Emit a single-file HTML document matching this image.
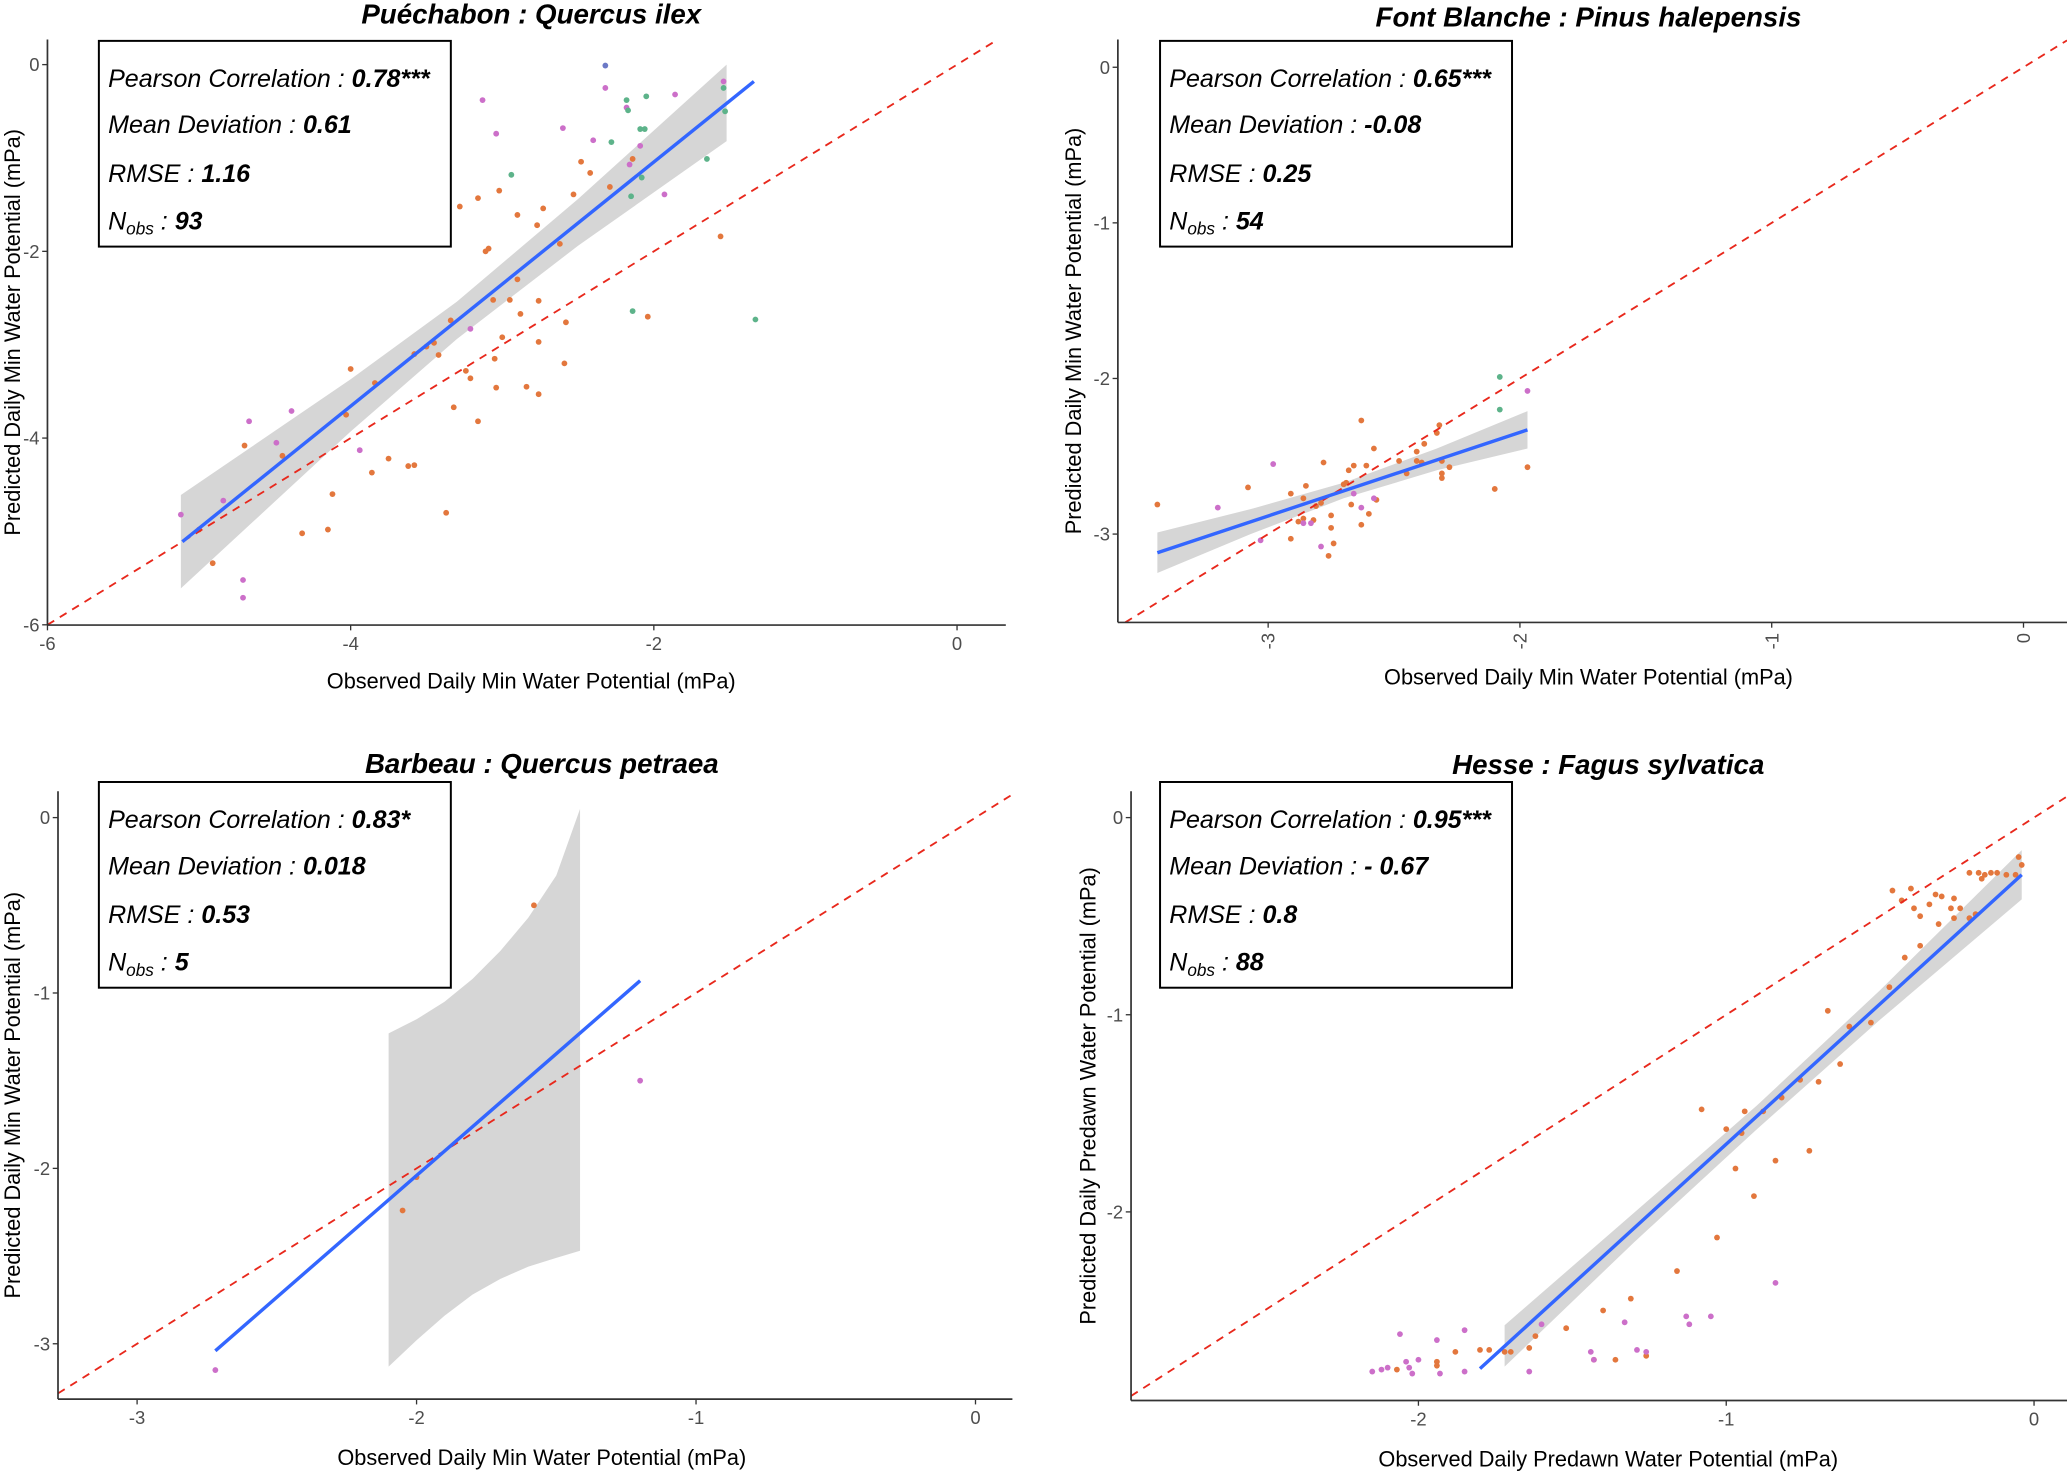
<!DOCTYPE html>
<html><head><meta charset="utf-8">
<style>
html,body{margin:0;padding:0;background:#fff;}
svg{display:block;}
text{font-family:"Liberation Sans",sans-serif;}
</style></head>
<body>
<svg id="fig" width="2067" height="1473" viewBox="0 0 1568 1117" preserveAspectRatio="none" xmlns="http://www.w3.org/2000/svg"></svg>
<script>
// ---------- Panel 1: Puechabon ----------
const p1Orange=[[-3.39,-0.95],[-3.28,-1.52],[-3.16,-1.43],[-3.02,-1.35],[-2.9,-1.61],[-2.73,-1.54],[-2.77,-1.72],[-2.48,-1.04],[-2.42,-1.16],[-2.53,-1.39],[-2.29,-1.31],[-2.62,-1.92],[-2.14,-1.01],[-1.56,-1.84],[-3.11,-2.0],[-3.09,-1.97],[-2.9,-2.3],[-3.06,-2.52],[-2.95,-2.52],[-2.76,-2.53],[-2.88,-2.67],[-2.58,-2.76],[-2.04,-2.7],[-3.34,-2.74],[-3.0,-2.92],[-2.76,-2.97],[-3.45,-2.98],[-3.5,-3.02],[-3.42,-3.11],[-3.58,-3.1],[-3.05,-3.15],[-3.24,-3.28],[-3.21,-3.36],[-2.59,-3.2],[-3.04,-3.46],[-2.84,-3.45],[-2.76,-3.53],[-3.84,-3.41],[-4.0,-3.26],[-3.32,-3.67],[-4.03,-3.75],[-3.16,-3.82],[-4.7,-4.08],[-4.45,-4.19],[-3.75,-4.22],[-3.86,-4.37],[-3.62,-4.3],[-3.58,-4.29],[-4.12,-4.6],[-3.37,-4.8],[-4.32,-5.02],[-4.15,-4.98],[-5.0,-4.98],[-4.91,-5.34]];
const p1Purple=[[-2.32,-0.25],[-3.13,-0.38],[-3.04,-0.74],[-2.6,-0.68],[-2.4,-0.81],[-1.86,-0.32],[-1.54,-0.18],[-2.16,-1.07],[-2.09,-0.87],[-1.93,-1.39],[-2.18,-0.46],[-3.21,-2.83],[-3.94,-4.13],[-4.39,-3.71],[-4.67,-3.82],[-4.49,-4.05],[-4.84,-4.67],[-5.12,-4.82],[-4.71,-5.52],[-4.71,-5.71]];
const p1Green=[[-2.18,-0.38],[-2.05,-0.34],[-2.17,-0.49],[-2.28,-0.83],[-2.09,-0.69],[-2.06,-0.69],[-2.08,-1.21],[-2.15,-1.41],[-1.65,-1.01],[-1.54,-0.25],[-1.53,-0.5],[-2.94,-1.18],[-3.38,-1.53],[-2.14,-2.64],[-1.33,-2.73]];
const p1Blue=[[-2.32,-0.01]];
const p1FitX=[-5.11,-1.34];
const p1FitY=[-5.11,-0.18];
const p1BandX=[-5.12,-4,-3.3,-2.5,-1.52];
const p1BandLo=[-5.61,-3.93,-2.94,-1.94,-0.82];
const p1BandHi=[-4.61,-3.37,-2.54,-1.44,0.0];

// ---------- Panel 2: Font Blanche ----------
const p2Orange=[[-3.44,-2.81],[-3.08,-2.7],[-2.91,-2.74],[-2.91,-3.03],[-2.88,-2.92],[-2.86,-2.9],[-2.82,-2.91],[-2.85,-2.69],[-2.86,-2.77],[-2.81,-2.82],[-2.79,-2.8],[-2.78,-2.54],[-2.76,-3.14],[-2.75,-2.88],[-2.75,-2.96],[-2.74,-3.06],[-2.7,-2.68],[-2.69,-2.67],[-2.68,-2.59],[-2.66,-2.56],[-2.67,-2.81],[-2.63,-2.27],[-2.63,-2.94],[-2.61,-2.56],[-2.6,-2.87],[-2.58,-2.45],[-2.57,-2.78],[-2.48,-2.53],[-2.45,-2.61],[-2.41,-2.47],[-2.41,-2.53],[-2.39,-2.54],[-2.38,-2.42],[-2.33,-2.35],[-2.32,-2.3],[-2.31,-2.53],[-2.31,-2.61],[-2.31,-2.64],[-2.28,-2.57],[-2.1,-2.71],[-1.97,-2.57]];
const p2Purple=[[-3.2,-2.83],[-2.98,-2.55],[-3.03,-3.04],[-2.86,-2.93],[-2.83,-2.93],[-2.79,-3.08],[-2.66,-2.74],[-2.63,-2.83],[-2.58,-2.77],[-1.97,-2.08]];
const p2Green=[[-2.08,-1.99],[-2.08,-2.2]];
const p2FitX=[-3.44,-1.97];
const p2FitY=[-3.12,-2.33];
const p2BandX=[-3.44,-3.07,-2.7,-2.33,-1.97];
const p2BandLo=[-3.25,-3.0,-2.77,-2.59,-2.45];
const p2BandHi=[-2.99,-2.84,-2.67,-2.45,-2.21];

// ---------- Panel 3: Barbeau ----------
const p3Orange=[[-2.05,-2.24],[-1.58,-0.5],[-2.0,-2.05]];
const p3Purple=[[-2.72,-3.15],[-1.2,-1.5]];
const p3FitX=[-2.72,-1.2];
const p3FitY=[-3.04,-0.93];
const p3BandX=[-2.1,-2.0,-1.9,-1.8,-1.7,-1.6,-1.5,-1.415];
const p3BandLo=[-3.13,-2.98,-2.84,-2.72,-2.63,-2.56,-2.51,-2.47];
const p3BandHi=[-1.23,-1.15,-1.05,-0.92,-0.76,-0.57,-0.33,0.05];

// ---------- Panel 4: Hesse ----------
const p4Orange=[[-0.05,-0.2],[-0.04,-0.24],[-0.06,-0.29],[-0.09,-0.29],[-0.12,-0.28],[-0.14,-0.28],[-0.16,-0.29],[-0.18,-0.28],[-0.21,-0.28],[-0.17,-0.31],[-0.21,-0.51],[-0.19,-0.49],[-0.26,-0.51],[-0.24,-0.46],[-0.27,-0.46],[-0.26,-0.41],[-0.3,-0.4],[-0.32,-0.39],[-0.34,-0.44],[-0.31,-0.54],[-0.37,-0.5],[-0.39,-0.46],[-0.4,-0.36],[-0.46,-0.37],[-0.43,-0.42],[-0.37,-0.65],[-0.42,-0.71],[-0.47,-0.86],[-0.53,-1.04],[-0.6,-1.06],[-0.67,-0.98],[-0.63,-1.25],[-0.7,-1.34],[-0.76,-1.33],[-0.82,-1.42],[-0.88,-1.49],[-0.94,-1.49],[-1.08,-1.48],[-1.0,-1.58],[-0.95,-1.6],[-0.73,-1.69],[-0.84,-1.74],[-0.97,-1.78],[-0.91,-1.92],[-1.03,-2.13],[-1.16,-2.3],[-1.31,-2.44],[-1.4,-2.5],[-1.52,-2.59],[-1.62,-2.63],[-1.64,-2.69],[-1.7,-2.71],[-1.72,-2.71],[-1.77,-2.7],[-1.8,-2.7],[-1.88,-2.71],[-1.94,-2.76],[-1.94,-2.78],[-1.36,-2.75],[-1.26,-2.73],[-1.43,-2.75],[-2.07,-2.8]];
const p4Purple=[[-2.06,-2.62],[-1.94,-2.65],[-1.85,-2.6],[-2.15,-2.81],[-2.12,-2.8],[-2.1,-2.79],[-2.04,-2.76],[-2.03,-2.79],[-2.02,-2.82],[-2.0,-2.75],[-1.93,-2.82],[-1.85,-2.81],[-1.64,-2.81],[-1.6,-2.57],[-1.44,-2.71],[-1.43,-2.75],[-1.33,-2.56],[-1.29,-2.7],[-1.26,-2.71],[-1.13,-2.53],[-1.12,-2.57],[-1.05,-2.53],[-0.84,-2.36]];
const p4FitX=[-1.8,-0.04];
const p4FitY=[-2.795,-0.29];
const p4BandX=[-1.72,-1.3,-0.9,-0.5,-0.04];
const p4BandLo=[-2.785,-2.155,-1.58,-1.025,-0.415];
const p4BandHi=[-2.575,-2.005,-1.46,-0.875,-0.165];

const NS="http://www.w3.org/2000/svg";
const svg=document.getElementById('fig');
function mk(tag,attrs,parent){const e=document.createElementNS(NS,tag);for(const k in attrs)e.setAttribute(k,attrs[k]);(parent||svg).appendChild(e);return e;}
const COL={orange:'#E3773D',purple:'#CC6FC9',green:'#5DB38A',blue:'#6C79C6'};

function panel(cfg){
  const g=mk('g',{});
  
  
  const sx=v=>cfg.x0px+(v-cfg.x0v)*cfg.kx;
  const sy=v=>cfg.y0px-(v-cfg.y0v)*cfg.ky;
  const L=cfg.left,R=cfg.right,T=cfg.top,B=cfg.bottom;
  const xmin=cfg.x0v+(L-cfg.x0px)/cfg.kx, xmax=cfg.x0v+(R-cfg.x0px)/cfg.kx;
  const ymin=cfg.y0v-(B-cfg.y0px)/cfg.ky, ymax=cfg.y0v-(T-cfg.y0px)/cfg.ky;
  const cid='clip-'+cfg.name;
  const defs=mk('defs',{},g);
  const cp=mk('clipPath',{id:cid},defs);
  mk('rect',{x:L,y:T,width:R-L,height:B-T},cp);
  const plot=mk('g',{'clip-path':'url(#'+cid+')'},g);
  let d='';
  cfg.bandX.forEach((x,i)=>{d+=(i?'L':'M')+sx(x)+' '+sy(cfg.bandHi[i]);});
  for(let i=cfg.bandX.length-1;i>=0;i--)d+='L'+sx(cfg.bandX[i])+' '+sy(cfg.bandLo[i]);
  const band=mk('path',{d:d+'Z',fill:'#D6D6D6'},plot);
  
  
  for(const c of ['orange','purple','green','blue']){
    const arr=cfg.pts[c];if(!arr)continue;
    arr.forEach(p=>{
      const pt=mk('circle',{cx:sx(p[0]),cy:sy(p[1]),r:2.2,fill:COL[c]},plot);
      
      
    });
  }
  const a=Math.max(xmin,ymin), b=Math.min(xmax,ymax);
  const one=mk('line',{x1:sx(a),y1:sy(a),x2:sx(b),y2:sy(b),stroke:'#E8281C','stroke-width':1.4,'stroke-dasharray':'6 5'},plot);
  
  
  const fit=mk('line',{x1:sx(cfg.fitX[0]),y1:sy(cfg.fitY[0]),x2:sx(cfg.fitX[1]),y2:sy(cfg.fitY[1]),stroke:'#3366FF','stroke-width':2.6},plot);
  
  
  const ax=mk('line',{x1:L,y1:B,x2:R,y2:B,stroke:'#333','stroke-width':1.3},g);
  
  
  const ay=mk('line',{x1:L,y1:T,x2:L,y2:B,stroke:'#333','stroke-width':1.3},g);
  
  
  cfg.xTicks.forEach(v=>{
    const x=sx(v);
    mk('line',{x1:x,y1:B,x2:x,y2:B+4,stroke:'#333','stroke-width':1},g);
    let t;
    if(cfg.rotX){t=mk('text',{x:x+5,y:B+8,'font-size':14,fill:'#4d4d4d','text-anchor':'end',transform:'rotate(-90 '+(x+5)+' '+(B+8)+')'},g);}
    else{t=mk('text',{x:x,y:B+19,'font-size':14,fill:'#4d4d4d','text-anchor':'middle'},g);}
    t.textContent=String(v);
    
    
  });
  cfg.yTicks.forEach(v=>{
    const y=sy(v);
    mk('line',{x1:L-4,y1:y,x2:L,y2:y,stroke:'#333','stroke-width':1},g);
    const t=mk('text',{x:L-6,y:y+5,'font-size':14,fill:'#4d4d4d','text-anchor':'end'},g);
    t.textContent=String(v);
    
    
  });
  const tt=mk('text',{x:cfg.titleX,y:cfg.titleY,'font-size':21,'font-weight':'bold','font-style':'italic','text-anchor':'middle',fill:'#000'},g);
  tt.textContent=cfg.title;
  
  
  const xt=mk('text',{x:cfg.titleX,y:cfg.xTitleY,'font-size':16.5,'text-anchor':'middle',fill:'#000'},g);
  xt.textContent=cfg.xTitle;
  
  
  const ytx=cfg.yTitleX, yty=(T+B)/2;
  const yt=mk('text',{x:ytx,y:yty,'font-size':16.5,'text-anchor':'middle',fill:'#000',transform:'rotate(-90 '+ytx+' '+yty+')'},g);
  yt.textContent=cfg.yTitle;
  
  
  const bx=cfg.boxX, by=cfg.boxY;
  const box=mk('rect',{x:bx,y:by,width:267,height:156,fill:'#fff',stroke:'#000','stroke-width':1.5},g);
  
  
  const labels=['Pearson Correlation : ','Mean Deviation : ','RMSE : ',null];
  const offs=[35,70,107,143];
  cfg.stats.forEach((val,i)=>{
    const t=mk('text',{x:bx+7,y:by+offs[i],'font-size':19,'font-style':'italic',fill:'#000'},g);
    
    
    if(labels[i]){const s=mk('tspan',{},t);s.textContent=labels[i];}
    else{
      const s1=mk('tspan',{},t);s1.textContent='N';
      const s2=mk('tspan',{'font-size':13,dy:4},t);s2.textContent='obs';
      const s3=mk('tspan',{dy:-4},t);s3.textContent=' : ';
    }
    const v=mk('tspan',{'font-weight':'bold'},t);v.textContent=val;
  });
}

panel({name:'panel-puechabon',title:'Puéchabon : Quercus ilex',titleX:403,titleY:18,
  xTitle:'Observed Daily Min Water Potential (mPa)',yTitle:'Predicted Daily Min Water Potential (mPa)',xTitleY:522,yTitleX:15,
  left:36,right:763,top:30,bottom:474,x0px:36,x0v:-6,kx:115,y0px:49,y0v:0,ky:70.8,
  xTicks:[-6,-4,-2,0],yTicks:[0,-2,-4,-6],
  pts:{orange:p1Orange,purple:p1Purple,green:p1Green,blue:p1Blue},fitX:p1FitX,fitY:p1FitY,
  bandX:p1BandX,bandLo:p1BandLo,bandHi:p1BandHi,boxX:75,boxY:31,stats:['0.78***','0.61','1.16','93']});

panel({name:'panel-font-blanche',title:'Font Blanche : Pinus halepensis',titleX:1205,titleY:20,
  xTitle:'Observed Daily Min Water Potential (mPa)',yTitle:'Predicted Daily Min Water Potential (mPa)',xTitleY:519,yTitleX:820,
  left:848,right:1568,top:30,bottom:472,x0px:1535,x0v:0,kx:191,y0px:51,y0v:0,ky:118,rotX:true,
  xTicks:[-3,-2,-1,0],yTicks:[0,-1,-2,-3],
  pts:{orange:p2Orange,purple:p2Purple,green:p2Green},fitX:p2FitX,fitY:p2FitY,
  bandX:p2BandX,bandLo:p2BandLo,bandHi:p2BandHi,boxX:880,boxY:31,stats:['0.65***','-0.08','0.25','54']});

panel({name:'panel-barbeau',title:'Barbeau : Quercus petraea',titleX:411,titleY:586,
  xTitle:'Observed Daily Min Water Potential (mPa)',yTitle:'Predicted Daily Min Water Potential (mPa)',xTitleY:1111,yTitleX:15,
  left:44,right:768,top:600,bottom:1061,x0px:740,x0v:0,kx:212,y0px:620,y0v:0,ky:133,
  xTicks:[-3,-2,-1,0],yTicks:[0,-1,-2,-3],
  pts:{orange:p3Orange,purple:p3Purple},fitX:p3FitX,fitY:p3FitY,
  bandX:p3BandX,bandLo:p3BandLo,bandHi:p3BandHi,boxX:75,boxY:593,stats:['0.83*','0.018','0.53','5']});

panel({name:'panel-hesse',title:'Hesse : Fagus sylvatica',titleX:1220,titleY:587,
  xTitle:'Observed Daily Predawn Water Potential (mPa)',yTitle:'Predicted Daily Predawn Water Potential (mPa)',xTitleY:1112,yTitleX:831,
  left:858,right:1568,top:600,bottom:1062,x0px:1543,x0v:0,kx:233.5,y0px:620,y0v:0,ky:149.5,
  xTicks:[-2,-1,0],yTicks:[0,-1,-2],
  pts:{orange:p4Orange,purple:p4Purple},fitX:p4FitX,fitY:p4FitY,
  bandX:p4BandX,bandLo:p4BandLo,bandHi:p4BandHi,boxX:880,boxY:593,stats:['0.95***','- 0.67','0.8','88']});
</script>
</body></html>
